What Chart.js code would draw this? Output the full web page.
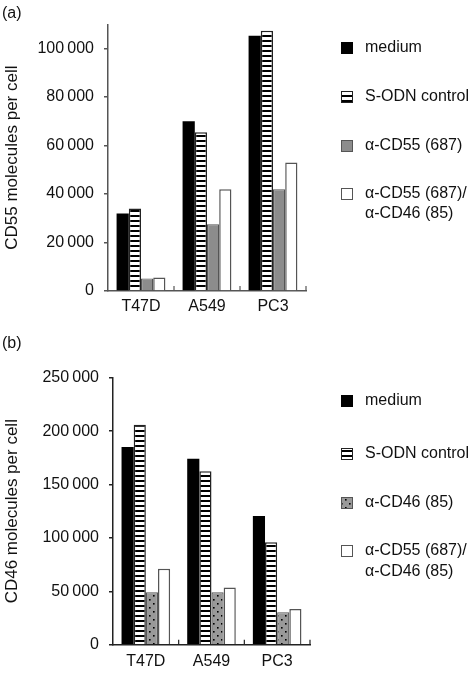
<!DOCTYPE html>
<html>
<head>
<meta charset="utf-8">
<script src="https://cdn.jsdelivr.net/npm/chart.js@4.4.0/dist/chart.umd.min.js"></script>
<style>
  html, body { margin: 0; padding: 0; background: #fff; }
  body { width: 475px; height: 673px; position: relative; font-family: "Liberation Sans", Arial, sans-serif; }
  .panel { position: absolute; left: 0; width: 475px; }
  .tag { position: absolute; left: 2px; font-size: 16px; color: #111; }
</style>
</head>
<body>
  <div class="panel" style="top:0;height:330px"><canvas id="chart-a"></canvas></div>
  <div class="panel" style="top:330px;height:343px"><canvas id="chart-b"></canvas></div>
  <div class="tag" style="top:4px">(a)</div>
  <div class="tag" style="top:334px">(b)</div>
<script>
'use strict'

// datos
var cellLines = ['T47D', 'A549', 'PC3']

var cd55Medium = [32000, 70000, 105300]
var cd55Control = [34000, 65500, 107300]
var cd55Anti55 = [5200, 27500, 42000]
var cd55Combined = [5600, 42000, 53000]
var cd55Ticks = [0, 20000, 40000, 60000, 80000, 100000]

var cd46Medium = [185000, 174000, 120500]
var cd46Control = [206000, 162500, 96000]
var cd46Anti46 = [49000, 49000, 30500]
var cd46Combined = [71000, 53500, 33500]
var cd46Ticks = [0, 50000, 100000, 150000, 200000, 250000]

var FONT = '"Liberation Sans", Arial, sans-serif'

// patrones de relleno
function stripePattern() {
  var c = document.createElement('canvas')
  c.width = 8; c.height = 5
  var g = c.getContext('2d')
  g.fillStyle = '#fff'; g.fillRect(0, 0, 8, 5)
  g.fillStyle = '#000'; g.fillRect(0, 0, 8, 2)
  return g.createPattern(c, 'repeat')
}

function dotPattern() {
  var c = document.createElement('canvas')
  c.width = 8; c.height = 8
  var g = c.getContext('2d')
  g.fillStyle = '#999'; g.fillRect(0, 0, 8, 8)
  g.fillStyle = '#000'
  g.fillRect(1, 1, 1.6, 1.6)
  g.fillRect(5, 5, 1.6, 1.6)
  return g.createPattern(c, 'repeat')
}

function fmt(v) {
  return String(v).replace(/\B(?=(\d{3})+(?!\d))/g, '\u2009')
}

// leyenda a la derecha, dibujada a mano
var swatchLegend = {
  id: 'swatchLegend',
  afterDraw: function (chart, args, opts) {
    var ctx = chart.ctx
    ctx.save()
    ctx.font = '16px ' + FONT
    ctx.textBaseline = 'middle'
    chart.data.datasets.forEach(function (ds, i) {
      var y = opts.rows[i]
      ctx.fillStyle = ds.backgroundColor
      ctx.fillRect(opts.x, y - 6, 12, 12)
      ctx.lineWidth = 1
      ctx.strokeStyle = ds.borderColor
      ctx.strokeRect(opts.x + 0.5, y - 5.5, 11, 11)
      ctx.fillStyle = '#111'
      ds.label.split('\n').forEach(function (line, k) {
        ctx.fillText(line, opts.x + 24, y + k * opts.lineGap)
      })
    })
    ctx.restore()
  }
}

// marcas cortas hacia adentro entre categorías
var innerTicks = {
  id: 'innerTicks',
  afterDatasetsDraw: function (chart, args, opts) {
    var x = chart.scales.x
    var ctx = chart.ctx
    var bottom = chart.chartArea.bottom
    ctx.save()
    ctx.strokeStyle = opts.color
    ctx.lineWidth = 1.2
    for (var i = 1; i <= chart.data.labels.length; i++) {
      var px = x.getPixelForValue(i - 0.5)
      ctx.beginPath()
      ctx.moveTo(px, bottom)
      ctx.lineTo(px, bottom - 5)
      ctx.stroke()
    }
    ctx.restore()
  }
}

function buildOptions(cfg) {
  return {
    animation: false,
    responsive: true,
    maintainAspectRatio: false,
    layout: { padding: cfg.padding },
    datasets: { bar: { categoryPercentage: 0.74, barPercentage: 1.0 } },
    plugins: {
      legend: { display: false },
      tooltip: { enabled: false },
      swatchLegend: cfg.legend,
      innerTicks: { color: cfg.axisColor }
    },
    scales: {
      x: {
        afterFit: function (s) { s.height = cfg.xHeight },
        grid: { display: false, drawTicks: false, tickLength: 0 },
        border: { color: cfg.axisColor, width: 1.5 },
        ticks: { font: { size: 16, family: FONT }, color: '#111', padding: cfg.xPad }
      },
      y: {
        min: 0,
        max: cfg.max,
        afterFit: function (s) { s.width = cfg.yWidth },
        afterBuildTicks: function (s) {
          s.ticks = cfg.ticks.map(function (v) { return { value: v } })
        },
        border: { color: cfg.axisColor, width: 1.5 },
        grid: { drawOnChartArea: false, drawTicks: true, tickLength: 4, color: cfg.axisColor, lineWidth: 1.5 },
        ticks: {
          font: { size: 16, family: FONT }, color: '#111', padding: 10,
          callback: function (v) { return fmt(v) }
        },
        title: { display: true, text: cfg.title, font: { size: 17, family: FONT }, color: '#111', padding: { top: 2, bottom: 0 } }
      }
    }
  }
}

var stripes = stripePattern()
var dots = dotPattern()

new Chart(document.getElementById('chart-a').getContext('2d'), {
  type: 'bar',
  data: {
    labels: cellLines,
    datasets: [
      { label: 'medium', data: cd55Medium, backgroundColor: '#000', borderColor: '#000', borderWidth: 0 },
      { label: 'S-ODN control', data: cd55Control, backgroundColor: stripes, borderColor: '#222', borderWidth: 1.5 },
      { label: 'α-CD55 (687)', data: cd55Anti55, backgroundColor: '#8c8c8c', borderColor: '#555', borderWidth: 1.2 },
      { label: 'α-CD55 (687)/\nα-CD46 (85)', data: cd55Combined, backgroundColor: '#fff', borderColor: '#555', borderWidth: 1.5 }
    ]
  },
  options: buildOptions({
    padding: { top: 24.25, right: 169, left: 0, bottom: 0 },
    xHeight: 39, xPad: 6, yWidth: 108, max: 110000, ticks: cd55Ticks,
    axisColor: '#555', title: 'CD55 molecules per cell',
    legend: { x: 341, rows: [48, 97, 146, 194], lineGap: 20 }
  }),
  plugins: [swatchLegend, innerTicks]
})

new Chart(document.getElementById('chart-b').getContext('2d'), {
  type: 'bar',
  data: {
    labels: cellLines,
    datasets: [
      { label: 'medium', data: cd46Medium, backgroundColor: '#000', borderColor: '#000', borderWidth: 0 },
      { label: 'S-ODN control', data: cd46Control, backgroundColor: stripes, borderColor: '#222', borderWidth: 1.5 },
      { label: 'α-CD46 (85)', data: cd46Anti46, backgroundColor: dots, borderColor: '#555', borderWidth: 1.2 },
      { label: 'α-CD55 (687)/\nα-CD46 (85)', data: cd46Combined, backgroundColor: '#fff', borderColor: '#555', borderWidth: 1.5 }
    ]
  },
  options: buildOptions({
    padding: { top: 47.7, right: 165, left: 0, bottom: 0 },
    xHeight: 28.3, xPad: 7, yWidth: 113, max: 250000, ticks: cd46Ticks,
    axisColor: '#222', title: 'CD46 molecules per cell',
    legend: { x: 341, rows: [71, 124, 173, 221], lineGap: 21 }
  }),
  plugins: [swatchLegend, innerTicks]
})
</script>
</body>
</html>
